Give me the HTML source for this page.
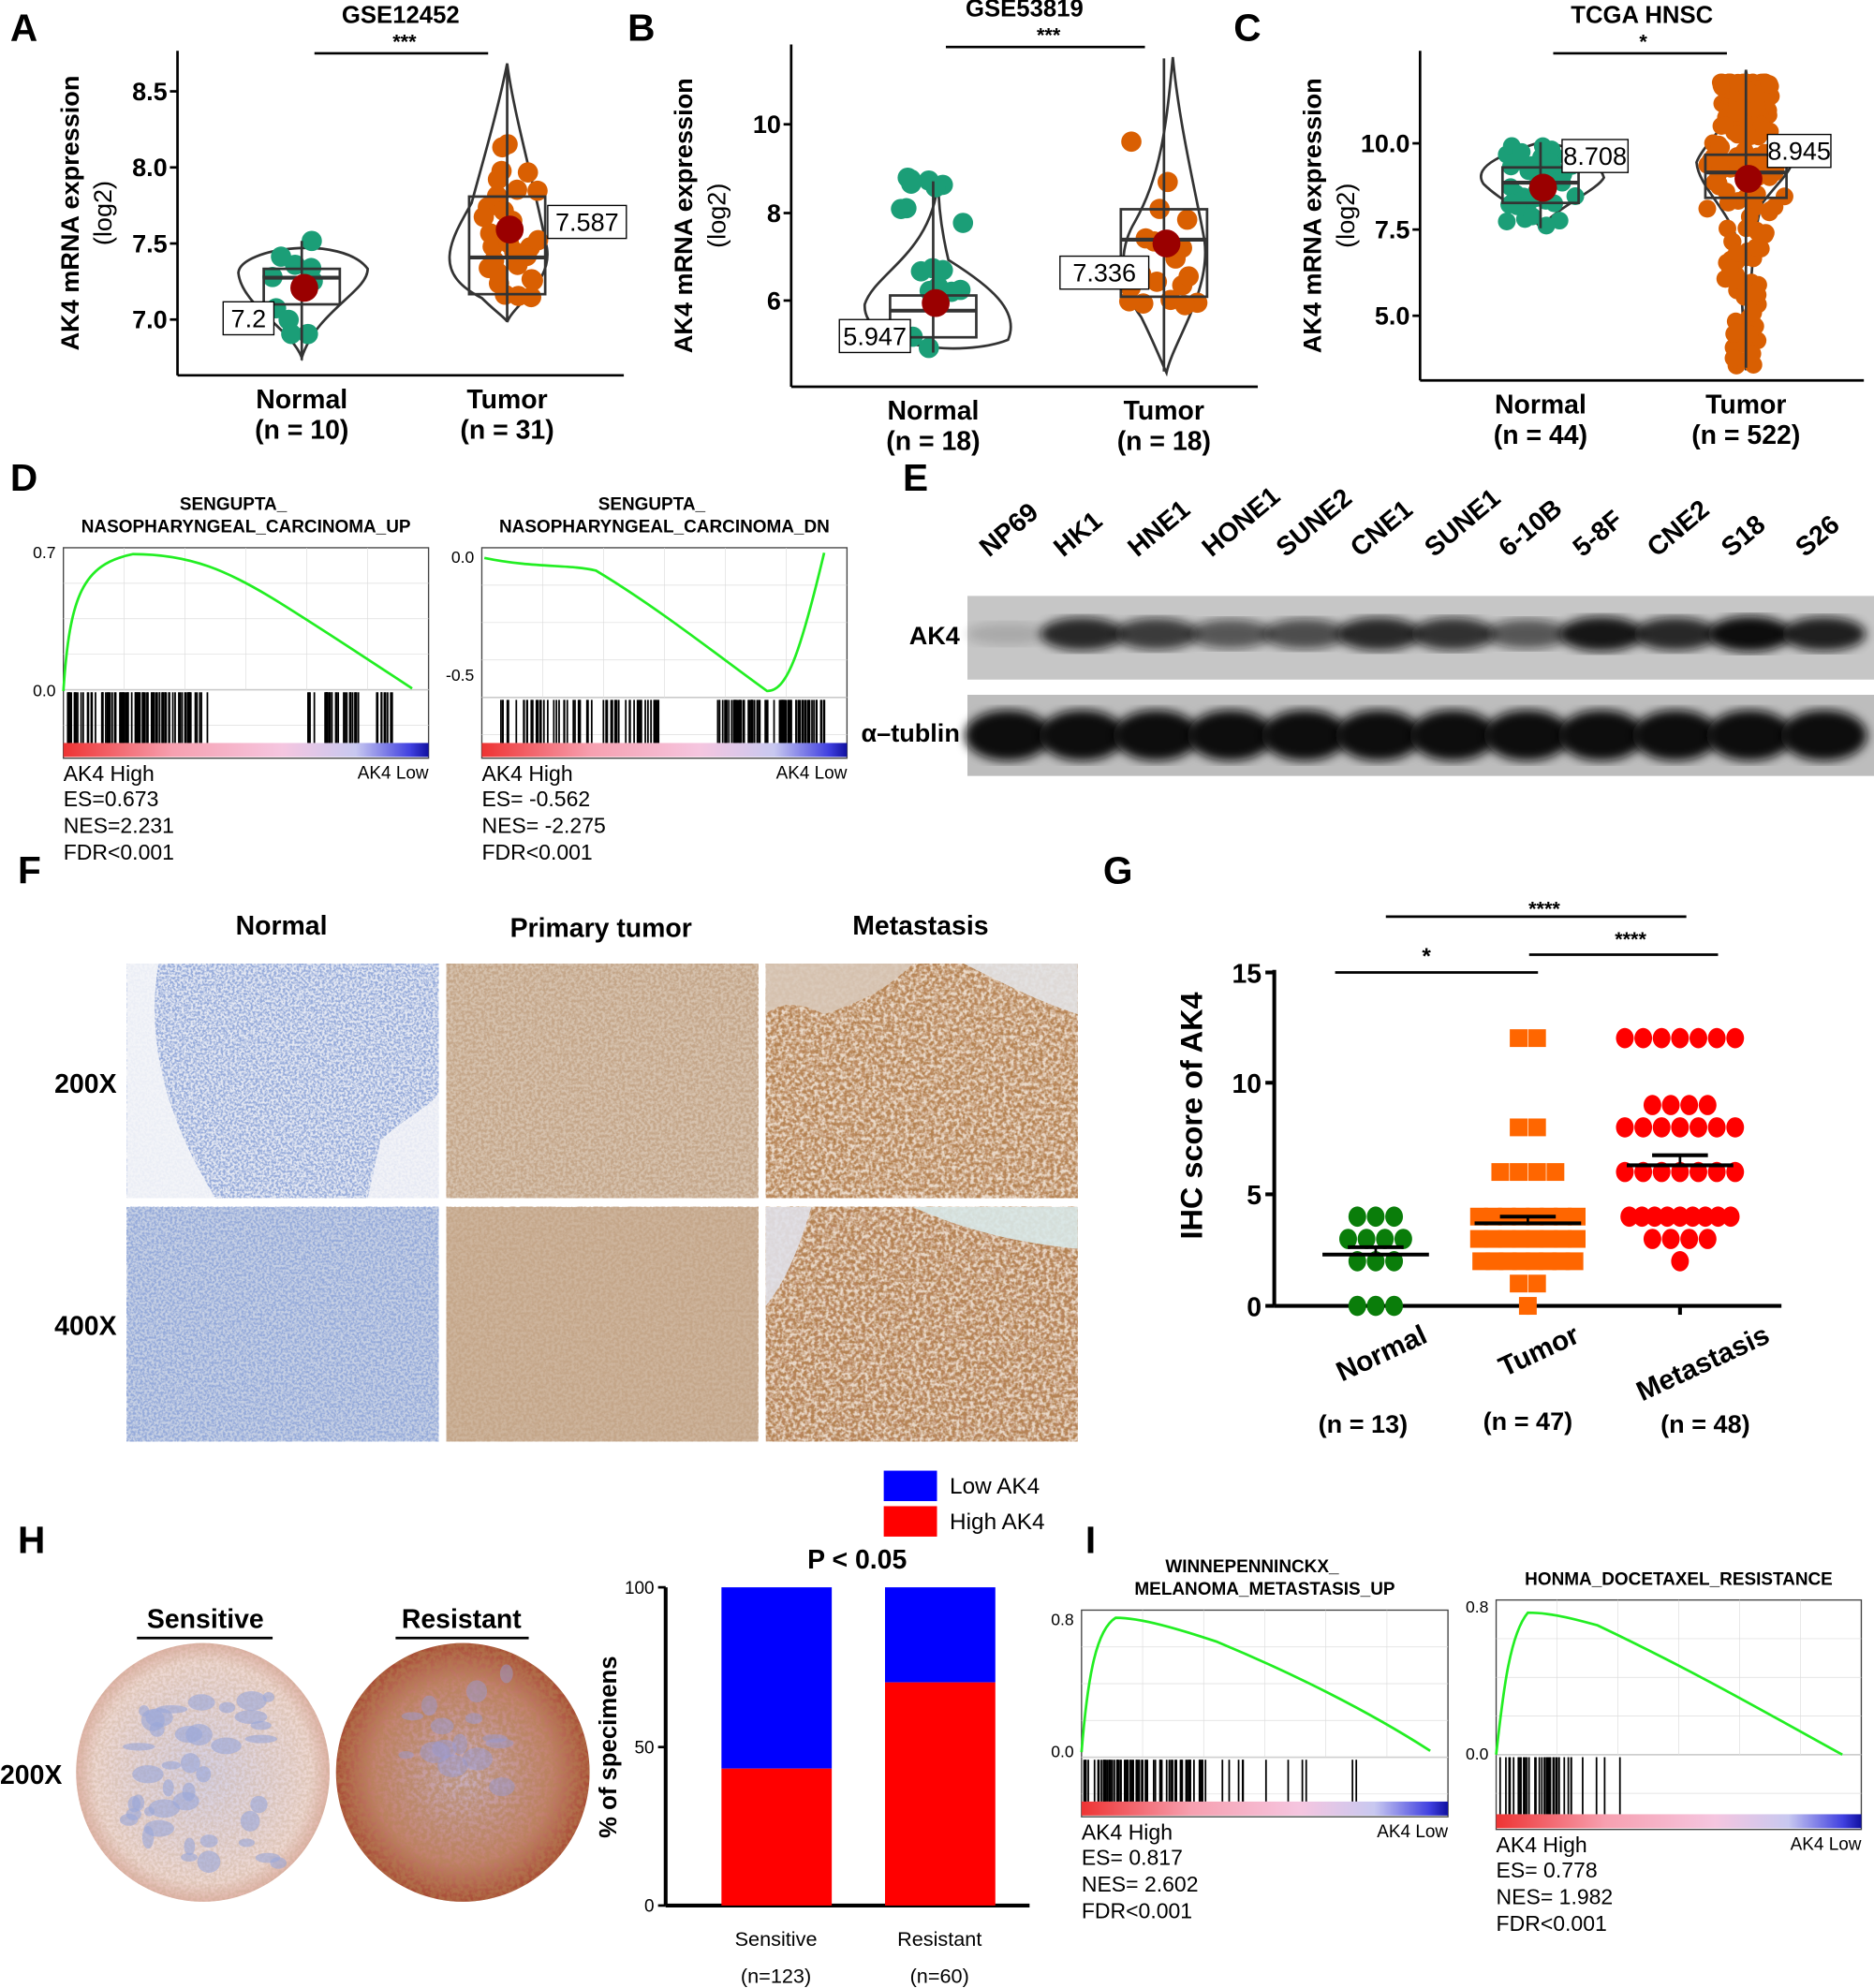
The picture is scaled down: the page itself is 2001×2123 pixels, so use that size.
<!DOCTYPE html><html><head><meta charset="utf-8"><style>html,body{margin:0;padding:0;background:#fff}svg{display:block}text{font-family:"Liberation Sans",Arial,sans-serif}</style></head><body>
<svg id="s" xmlns="http://www.w3.org/2000/svg" width="2001" height="2123" viewBox="0 0 1478 1568">
<defs>
<filter id="blueT" x="0" y="0" width="1" height="1"><feTurbulence type="fractalNoise" baseFrequency="0.55" numOctaves="2" seed="3"/><feColorMatrix values="0 0 0 0 0.3  0 0 0 0 0.4  0 0 0 0 0.7  0 0 0 -3.5 2.2"/></filter>
<filter id="brownT" x="0" y="0" width="1" height="1"><feTurbulence type="fractalNoise" baseFrequency="0.45" numOctaves="2" seed="7"/><feColorMatrix values="0 0 0 0 0.55  0 0 0 0 0.38  0 0 0 0 0.25  0 0 0 -3 2"/></filter>
<filter id="brownD" x="0" y="0" width="1" height="1"><feTurbulence type="fractalNoise" baseFrequency="0.3" numOctaves="3" seed="9"/><feColorMatrix values="0 0 0 0 0.45  0 0 0 0 0.22  0 0 0 0 0.08  0 0 0 -3 2.1"/></filter>
<filter id="whT" x="0" y="0" width="1" height="1"><feTurbulence type="fractalNoise" baseFrequency="0.35" numOctaves="2" seed="11"/><feColorMatrix values="0 0 0 0 1  0 0 0 0 0.98  0 0 0 0 0.95  0 0 0 -3 1.9"/></filter>
<filter id="bl"><feGaussianBlur stdDeviation="4"/></filter>
<linearGradient id="rg" x1="0" x2="1"><stop offset="0" stop-color="#e33"/><stop offset="0.3" stop-color="#f7a0b0"/><stop offset="0.6" stop-color="#f5c6e0"/><stop offset="0.8" stop-color="#c8c8f0"/><stop offset="0.95" stop-color="#4040e0"/><stop offset="1" stop-color="#1010a0"/></linearGradient>
<radialGradient id="cS"><stop offset="0" stop-color="#d4d0e4"/><stop offset="0.85" stop-color="#eed8d2"/><stop offset="1" stop-color="#e0b4a8"/></radialGradient>
<radialGradient id="cR"><stop offset="0" stop-color="#c9b2c4"/><stop offset="0.7" stop-color="#c48272"/><stop offset="1" stop-color="#a84a34"/></radialGradient>
<clipPath id="c1"><ellipse cx="160" cy="1398" rx="100" ry="102"/></clipPath>
<clipPath id="c2"><ellipse cx="365" cy="1398" rx="100" ry="102"/></clipPath>
</defs>
<g id="g" font-weight="bold"></g>
</svg>
<script>
const S=document.getElementById('g');let seed=5;function R(){seed=(seed*16807)%2147483647;return seed/2147483647;}
let h='';
function T(x,y,t,s,o){h+=`<text x="${x}" y="${y}" font-size="${s}" ${o||''}>${t}</text>`;}
function L(x1,y1,x2,y2,w,c){h+=`<line x1="${x1}" y1="${y1}" x2="${x2}" y2="${y2}" stroke="${c||'#000'}" stroke-width="${w||2}"/>`;}
[['A',8,32],['B',495,32],['C',973,32],['D',8,387],['E',712,387],['F',14,697],['G',870,697],['H',14,1225],['I',856,1225]].forEach(a=>T(a[1],a[2],a[0],30,'font-weight="bold"'));
function violin(ax,ay,aw,ah,ticks,title,star,groups){
 L(ax,ay,ax,ay+ah);L(ax,ay+ah,ax+aw,ay+ah);
 ticks.forEach(t=>{L(ax-6,t[1],ax,t[1]);T(ax-8,t[1]+7,t[0],20,'text-anchor="end"');});
 T(ax+aw/2,ay-22,title,19,'text-anchor="middle"');
 L(groups[0].x+10,ay+2,groups[1].x-15,ay+2);T((groups[0].x+groups[1].x)/2,ay-2,star,16,'text-anchor="middle"');
 h+=`<text transform="translate(${ax-78},${ay+ah/2}) rotate(-90)" font-size="20" text-anchor="middle">AK4 mRNA expression</text><text transform="translate(${ax-52},${ay+ah/2}) rotate(-90)" font-size="20" text-anchor="middle" font-weight="normal">(log2)</text>`;
 groups.forEach(g=>{
  T(g.x,ay+ah+26,g.n,21,'text-anchor="middle"');T(g.x,ay+ah+50,g.c,21,'text-anchor="middle"');
  h+=`<path d="${g.v}" fill="none" stroke="#333" stroke-width="2"/>`;
  for(let i=0;i<g.k;i++){const y=g.yl+(g.yh-g.yl)*Math.pow(R(),g.p||1);const sp=g.spf?g.spf(y):g.sp;h+=`<circle cx="${g.x+(R()-0.5)*sp}" cy="${y}" r="${g.r}" fill="${g.col}"/>`;}
  h+=`<rect x="${g.x-g.bw}" y="${g.b1}" width="${2*g.bw}" height="${g.b2-g.b1}" fill="none" stroke="#333" stroke-width="2"/>`;L(g.x-g.bw,g.med,g.x+g.bw,g.med,3,'#333');
  L(g.x,g.w1,g.x,g.w2,2,'#333');
  h+=`<circle cx="${g.x+2}" cy="${g.mean}" r="11" fill="#9a0000"/>`;
  h+=`<rect x="${g.lx}" y="${g.ly}" width="${g.lw}" height="26" fill="#fff" stroke="#000"/>`;T(g.lx+g.lw/2,g.ly+20,g.lab,20,'text-anchor="middle" font-weight="normal"');
 });
}
violin(140,40,352,256,[['8.5',72],['8.0',132],['7.5',192],['7.0',252]],'GSE12452','***',[
 {x:238,n:'Normal',c:'(n = 10)',v:'M238,282 C230,260 190,240 188,215 C190,195 270,185 290,212 C290,230 250,245 238,282Z',bw:30,b1:212,b2:240,med:219,w1:190,w2:284,k:10,yl:190,yh:270,sp:50,r:8,col:'#1b9e77',mean:227,lx:176,ly:238,lw:40,lab:'7.2'},
 {x:400,n:'Tumor',c:'(n = 31)',v:'M400,50 C392,90 380,130 372,160 C355,190 340,215 380,235 C390,245 400,252 400,254 C405,240 440,220 430,190 C425,160 405,90 400,50Z',bw:30,b1:155,b2:232,med:203,w1:52,w2:253,k:30,yl:55,yh:238,p:0.45,sp:58,r:8,col:'#d95f02',mean:181,lx:432,ly:162,lw:62,lab:'7.587'}]);
violin(624,35,368,270,[['10',98],['8',168],['6',237]],'GSE53819','***',[
 {x:736,n:'Normal',c:'(n = 18)',v:'M740,142 C735,200 690,215 682,240 C680,275 760,282 795,268 C805,245 780,225 748,205 C742,180 740,160 740,142Z',bw:34,b1:233,b2:266,med:245,w1:143,w2:278,k:18,yl:140,yh:275,p:1.6,sp:60,r:8,col:'#1b9e77',mean:239,lx:662,ly:252,lw:56,lab:'5.947'},
 {x:918,n:'Tumor',c:'(n = 18)',v:'M925,45 C920,100 915,140 895,175 C880,200 885,230 900,250 C910,270 918,290 920,294 C925,270 955,230 950,190 C945,160 930,100 925,45Z',bw:34,b1:165,b2:234,med:189,w1:46,w2:293,k:18,yl:100,yh:245,p:0.6,sp:60,r:8,col:'#d95f02',mean:192,lx:836,ly:202,lw:70,lab:'7.336'}]);
violin(1120,40,350,260,[['10.0',113],['7.5',181],['5.0',249]],'TCGA HNSC','*',[
 {x:1215,n:'Normal',c:'(n = 44)',v:'M1215,112 C1190,120 1160,130 1170,145 C1185,160 1210,170 1215,180 C1225,165 1260,150 1265,140 C1260,125 1240,115 1215,112Z',bw:30,b1:132,b2:160,med:144,w1:112,w2:180,k:44,yl:115,yh:178,sp:55,r:7,col:'#1b9e77',mean:148,lx:1232,ly:110,lw:52,lab:'8.708'},
 {x:1377,n:'Tumor',c:'(n = 522)',v:'M1377,55 C1375,90 1345,110 1338,128 C1340,150 1370,170 1372,200 C1374,240 1376,280 1377,292 C1380,240 1382,180 1390,160 C1405,140 1420,130 1410,120 C1395,105 1380,80 1377,55Z',bw:32,b1:122,b2:156,med:136,w1:57,w2:290,k:240,yl:65,yh:290,p:2.4,spf:y=>y<110?40:y<170?62:y<220?34:22,r:7,col:'#d95f02',mean:141,lx:1394,ly:106,lw:50,lab:'8.945'}]);
function gsea(x,y,w,h1,h2,t1,t2,path,yl,es,hits){
 T(x+w/2-10,y-30,t1,14,'text-anchor="middle"');T(x+w/2,y-12,t2,14,'text-anchor="middle"');
 h+=`<rect x="${x}" y="${y}" width="${w}" height="${h1+h2}" fill="none" stroke="#444"/>`;L(x,y+h1,x+w,y+h1,1,'#aaa');
 for(let i=1;i<6;i++){L(x+w*i/6,y,x+w*i/6,y+h1,0.5,'#ddd');L(x,y+h1*i/4,x+w,y+h1*i/4,0.5,'#ddd');}
 h+=`<path d="${path}" fill="none" stroke="#22ee22" stroke-width="2"/>`;
 yl.forEach(a=>T(x-6,a[1]+4,a[0],13,'text-anchor="end" font-weight="normal"'));
 hits.forEach(a=>{for(let i=0;i<a[2];i++){const xx=a[0]+R()*(a[1]-a[0]);L(xx,y+h1+2,xx,y+h1+h2-12,1.3);}});
 h+=`<rect x="${x}" y="${y+h1+h2-12}" width="${w}" height="11" fill="url(#rg)"/>`;
 T(x,y+h1+h2+18,'AK4 High',17,'font-weight="normal"');T(x+w,y+h1+h2+16,'AK4 Low',14,'text-anchor="end" font-weight="normal"');
 es.forEach((e,i)=>T(x,y+h1+h2+38+i*21,e,17,'font-weight="normal"'));
}
gsea(50,432,288,112,54,'SENGUPTA_','NASOPHARYNGEAL_CARCINOMA_UP','M50,545 C55,470 65,445 105,437 C150,437 180,450 220,475 C260,500 290,520 325,543',[['0.7',436],['0.0',545]],['ES=0.673','NES=2.231','FDR<0.001'],[[52,165,90],[240,285,30],[295,310,10]]);
gsea(380,432,288,118,48,'SENGUPTA_','NASOPHARYNGEAL_CARCINOMA_DN','M382,440 C420,448 450,445 470,450 C520,480 570,520 605,545 C620,545 630,520 650,436',[['0.0',440],['-0.5',533]],['ES= -0.562','NES= -2.275','FDR<0.001'],[[395,520,60],[565,652,90]]);
gsea(853,1270,289,116,47,'WINNEPENNINCKX_','MELANOMA_METASTASIS_UP','M853,1382 C858,1320 865,1285 880,1276 C900,1276 930,1285 960,1295 C1020,1320 1080,1350 1128,1381',[['0.8',1278],['0.0',1382]],['ES= 0.817','NES= 2.602','FDR<0.001'],[[855,950,70],[950,1075,12]]);
gsea(1180,1262,288,122,59,'','HONMA_DOCETAXEL_RESISTANCE','M1180,1384 C1185,1340 1190,1290 1205,1272 C1220,1272 1235,1275 1260,1282 C1340,1320 1400,1355 1453,1384',[['0.8',1268],['0.0',1384]],['ES= 0.778','NES= 1.982','FDR<0.001'],[[1182,1230,30],[1230,1285,8]]);
h+=`<rect x="763" y="470" width="715" height="66" fill="#c6c6c6"/><rect x="763" y="548" width="715" height="64" fill="#bdbdbd"/>`;
const ln=['NP69','HK1','HNE1','HONE1','SUNE2','CNE1','SUNE1','6-10B','5-8F','CNE2','S18','S26'];
const it=[0.15,0.85,0.75,0.6,0.65,0.85,0.8,0.6,0.95,0.85,1,0.9];
ln.forEach((n,i)=>{const cx=795+i*58.5;h+=`<text transform="translate(${cx-15},${440}) rotate(-40)" font-size="21" font-weight="bold">${n}</text>`;
 h+=`<ellipse cx="${cx}" cy="500" rx="33" ry="${8+it[i]*6}" fill="#111" opacity="${it[i]}" filter="url(#bl)"/><ellipse cx="${cx}" cy="580" rx="34" ry="20" fill="#111" filter="url(#bl)"/>`;});
T(757,508,'AK4',20,'text-anchor="end"');T(757,585,'α–tublin',20,'text-anchor="end"');
T(222,737,'Normal',21,'text-anchor="middle"');T(474,739,'Primary tumor',21,'text-anchor="middle"');T(726,737,'Metastasis',21,'text-anchor="middle"');
T(92,862,'200X',21,'text-anchor="end"');T(92,1053,'400X',21,'text-anchor="end"');
[[100,760,'#e4e8f2','blueT'],[352,760,'#d6c2ae','brownT'],[604,760,'#c09068','brownD'],[100,952,'#c6d0e4','blueT'],[352,952,'#cdb49c','brownT'],[604,952,'#b98660','brownD']].forEach(p=>{
 h+=`<rect x="${p[0]}" y="${p[1]}" width="246" height="185" fill="${p[2]}"/><rect x="${p[0]}" y="${p[1]}" width="246" height="185" filter="url(#${p[3]})"/>`;
 if(p[3]=='brownD')h+=`<rect x="${p[0]}" y="${p[1]}" width="246" height="185" filter="url(#whT)" opacity="0.7"/>`;});
h+=`<path d="M100,760 L125,760 C115,820 130,880 170,945 L100,945Z" fill="#f4f5f8" opacity="0.9"/><path d="M300,900 C320,880 346,870 346,860 L346,945 L290,945Z" fill="#f4f5f8" opacity="0.85"/><path d="M604,760 L720,760 C700,780 680,790 650,800 C630,790 615,790 604,800Z" fill="#d8c8b8" opacity="0.9"/><path d="M760,760 L850,760 L850,800 C820,790 800,780 760,760Z" fill="#e2e2e4" opacity="0.9"/><path d="M604,952 L640,952 C630,985 620,1010 604,1030Z" fill="#e0e0e8" opacity="0.9"/><path d="M720,952 L850,952 L850,985 C800,980 760,970 720,952Z" fill="#d8e8e8" opacity="0.9"/>`;
const gx=1005,gy0=1030,u=17.6;L(gx,765,gx,gy0,3);L(gx,gy0,1405,gy0,3);
[[15,767],[10,854],[5,942],[0,1030]].forEach(t=>{L(gx-7,t[1],gx,t[1],3);T(gx-10,t[1]+8,t[0],21,'text-anchor="end"');});
L(1085,gy0,1085,gy0+7,3);L(1205,gy0,1205,gy0+7,3);L(1325,gy0,1325,gy0+7,3);
h+=`<text transform="translate(948,880) rotate(-90)" font-size="24" text-anchor="middle">IHC score of AK4</text>`;
L(1053,767,1213,767,2);T(1125,760,'*',18,'text-anchor="middle"');L(1093,723,1330,723,2);T(1218,722,'****',16,'text-anchor="middle"');L(1206,753,1355,753,2);T(1286,746,'****',16,'text-anchor="middle"');
function dots(cx,rows,shape,col){rows.forEach(r=>{const[v,n,sp]=r;const d=sp||14.5;for(let i=0;i<n;i++){const x=cx+(i-(n-1)/2)*d,y=gy0-v*u;h+=shape=='c'?`<ellipse cx="${x}" cy="${y}" rx="7" ry="8" fill="${col}"/>`:`<rect x="${x-7}" y="${y-7}" width="14" height="14" fill="${col}"/>`;}});}
dots(1085,[[4,3],[3,4],[2,3],[0,3]],'c','#0a7d0a');
dots(1205,[[12,2],[8,2],[6,4],[4,8,11],[3,8,11],[2,8,10.5],[1,2],[0,1]],'s','#ff6600');
dots(1325,[[12,7],[9,4],[8,7],[6,7],[4,9,10],[3,4],[2,1]],'c','#ff0000');
[[1085,2.3,0.33],[1205,3.7,0.3],[1325,6.3,0.45]].forEach(m=>{const y=gy0-m[1]*u;L(m[0]-42,y,m[0]+42,y,3);L(m[0],y,m[0],y-m[2]*u,2);L(m[0]-22,y-m[2]*u,m[0]+22,y-m[2]*u,3);});
[[1085,'Normal'],[1205,'Tumor'],[1325,'Metastasis']].forEach((a,i)=>{h+=`<text transform="translate(${a[0]+(i==2?72:42)},${1058}) rotate(-25)" font-size="22" text-anchor="end">${a[1]}</text>`;});
T(1075,1130,'(n = 13)',20,'text-anchor="middle"');T(1205,1128,'(n = 47)',20,'text-anchor="middle"');T(1345,1130,'(n = 48)',20,'text-anchor="middle"');
T(162,1284,'Sensitive',21,'text-anchor="middle"');L(108,1292,215,1292,2);T(364,1284,'Resistant',21,'text-anchor="middle"');L(312,1292,417,1292,2);
T(0,1407,'200X',21);
h+=`<ellipse cx="160" cy="1398" rx="100" ry="102" fill="url(#cS)"/><ellipse cx="365" cy="1398" rx="100" ry="102" fill="url(#cR)"/>`;
h+=`<rect x="60" y="1296" width="200" height="204" filter="url(#brownT)" opacity="0.35" clip-path="url(#c1)"/><rect x="265" y="1296" width="200" height="204" filter="url(#brownD)" opacity="0.55" clip-path="url(#c2)"/>`;
for(let i=0;i<40;i++){h+=`<ellipse cx="${100+R()*120}" cy="${1330+R()*140}" rx="${4+R()*9}" ry="${3+R()*6}" fill="#9aa6d8" opacity="0.6"/>`;}
for(let i=0;i<15;i++){h+=`<ellipse cx="${320+R()*80}" cy="${1320+R()*90}" rx="${4+R()*8}" ry="${3+R()*6}" fill="#9a9ad0" opacity="0.5"/>`;}
L(525,1252,525,1503,3);L(525,1503,812,1503,3);
[[100,1252],[50,1378],[0,1503]].forEach(t=>{L(519,t[1],525,t[1],2);T(516,t[1]+5,t[0],14,'text-anchor="end" font-weight="normal"');});
h+=`<text transform="translate(486,1378) rotate(-90)" font-size="19" text-anchor="middle">% of specimens</text>`;
h+=`<rect x="569" y="1252" width="87" height="143" fill="#0000ff"/><rect x="569" y="1395" width="87" height="108" fill="#ff0000"/><rect x="698" y="1252" width="87" height="75" fill="#0000ff"/><rect x="698" y="1327" width="87" height="176" fill="#ff0000"/>`;
T(676,1237,'P &lt; 0.05',21,'text-anchor="middle"');
h+=`<rect x="697" y="1160" width="42" height="24" fill="#0000ff"/><rect x="697" y="1188" width="42" height="24" fill="#ff0000"/>`;T(749,1178,'Low AK4',18,'font-weight="normal"');T(749,1206,'High AK4',18,'font-weight="normal"');
T(612,1535,'Sensitive',16,'text-anchor="middle" font-weight="normal"');T(741,1535,'Resistant',16,'text-anchor="middle" font-weight="normal"');
T(612,1564,'(n=123)',16,'text-anchor="middle" font-weight="normal"');T(741,1564,'(n=60)',16,'text-anchor="middle" font-weight="normal"');
S.innerHTML=h;
</script>
</body></html>
